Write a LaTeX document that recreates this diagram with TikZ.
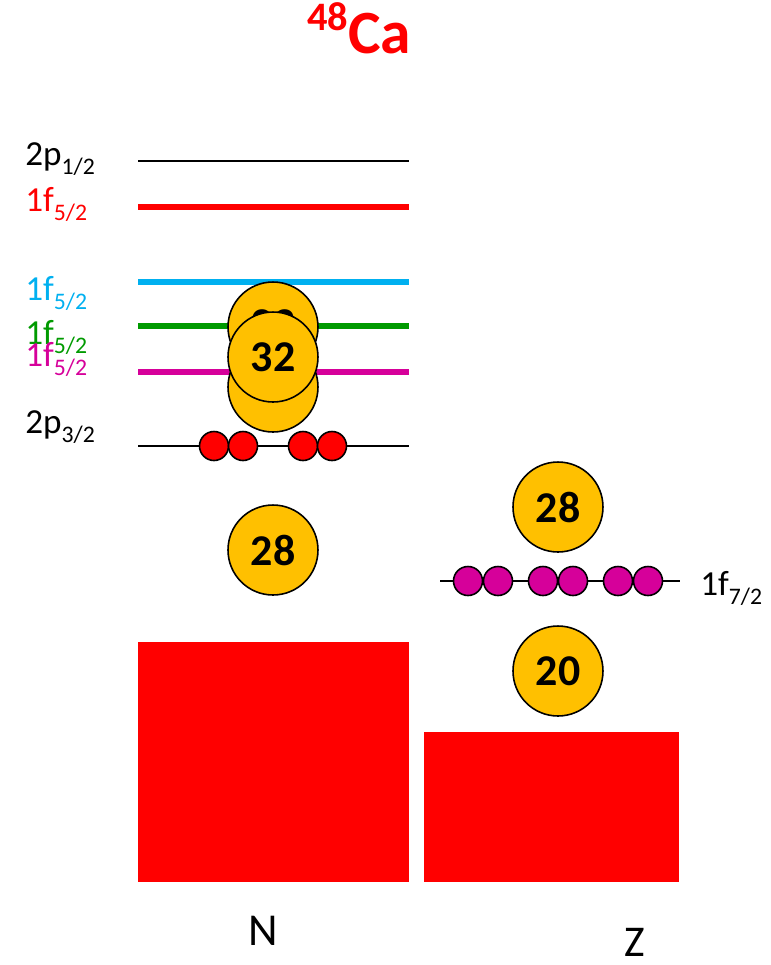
\documentclass[tikz,border=0pt]{standalone}
\usepackage{fontspec}
\setmainfont{Carlito}
\usepackage{xcolor}
\usepackage{tikz}
\usetikzlibrary{positioning}

\definecolor{levcyan}{HTML}{00B0F0}
\definecolor{levgreen}{HTML}{009A00}
\definecolor{levmag}{HTML}{D6009A}
\definecolor{magicyel}{HTML}{FFC000}

\newcommand{\levsub}[1]{\raisebox{-5.5pt}{\fontsize{13.5}{13.5}\selectfont #1}}

\tikzset{
    magicnum/.style={circle, draw, line width=0.9pt, fill=magicyel, minimum size=1.8cm,
        inner sep=0pt, font=\fontsize{25}{25}\selectfont\bfseries},
    nucleon/.style={circle, draw, line width=0.9pt, minimum size=0.58cm, inner sep=0pt},
    levlabel/.style={anchor=base west, inner sep=0pt, font=\fontsize{20}{20}\selectfont},
    thinlev/.style={line width=1.1pt},
    thicklev/.style={line width=3.5pt},
}

\begin{document}
\begin{tikzpicture}[x=0.02cm, y=-0.02cm]
    \useasboundingbox (0,0) rectangle (771,965);

    % Tieu de
    \node[anchor=base west, inner sep=0pt, text=red, font=\bfseries] (title) at (307,53)
        {\raisebox{13pt}{\fontsize{23}{23}\selectfont 48}\fontsize{35}{35}\selectfont Ca};

    % Cac muc neutron
    \draw[thinlev] (138,161) -- (409,161);
    \draw[thicklev, red] (138,207) -- (409,207);
    \draw[thicklev, levcyan] (138,282) -- (409,282);
    \draw[thicklev, levgreen] (138,326) -- (409,326);
    \draw[thicklev, levmag] (138,372) -- (409,372);
    \draw[thinlev] (138,446) -- (409,446);

    \node[levlabel] (l1) at (25,165) {2p\levsub{1/2}};
    \node[levlabel, text=red] (l2) at (25,211) {1f\levsub{5/2}};
    \node[levlabel, text=levcyan] (l3) at (25,300) {1f\levsub{5/2}};
    \node[levlabel, text=levgreen] (l4) at (25,344) {1f\levsub{5/2}};
    \node[levlabel, text=levmag] (l5) at (25,366) {1f\levsub{5/2}};
    \node[levlabel] (l6) at (25,433) {2p\levsub{3/2}};

    % Muc proton
    \draw[thinlev] (440,581) -- (680,581);
    \node[levlabel] (l7) at (700,595) {1f\levsub{7/2}};

    % Cac nucleon
    \foreach \x [count=\i] in {214,243,303,332} {
        \node[nucleon, fill=red] (n\i) at (\x,446) {};
    }
    \foreach \x [count=\i] in {468,498,543,573,618,648} {
        \node[nucleon, fill=levmag] (p\i) at (\x,581) {};
    }

    % So magic
    \node[magicnum] (m32a) at (273,327) {\raisebox{3pt}{32}};
    \node[magicnum] (m32c) at (273,387) {};
    \node[magicnum] (m32b) at (273,357) {32};
    \node[magicnum] (m28n) at (273,550) {28};
    \node[magicnum] (m28z) at (558,507) {28};
    \node[magicnum] (m20z) at (558,671) {20};

    % Loi
    \fill[red] (138,642) rectangle (409,882);
    \fill[red] (424,732) rectangle (679,882);

    \node[anchor=base, inner sep=0pt, font=\fontsize{26}{26}\selectfont] (nlab) at (263,945) {N};
    \node[anchor=base, inner sep=0pt, font=\fontsize{25}{25}\selectfont] (zlab) at (635,956) {Z};
\end{tikzpicture}
\end{document}
